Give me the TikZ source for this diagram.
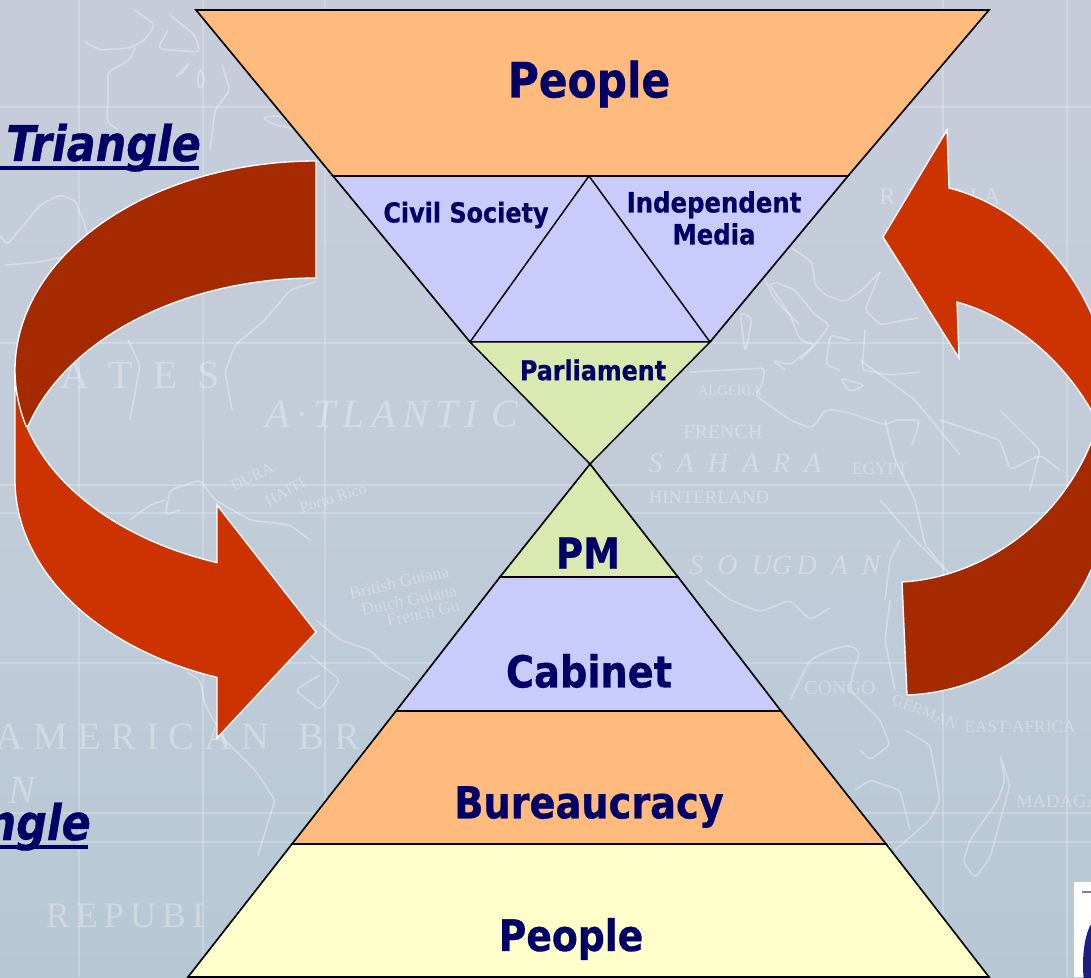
\documentclass[tikz,border=0pt]{standalone}
\usepackage{fontspec}
\setmainfont{DejaVu Sans}
\newfontfamily\labfont[FakeStretch=0.87,BoldFeatures={FakeBold=0.7},BoldItalicFeatures={FakeBold=0.7}]{DejaVu Sans}
\newfontfamily\mapfont{Liberation Serif}
\definecolor{navytxt}{HTML}{000066}
\definecolor{orangebox}{HTML}{FFBB7D}
\definecolor{lilacbox}{HTML}{CACBFD}
\definecolor{greenbox}{HTML}{D9E9B0}
\definecolor{yellowbox}{HTML}{FFFFCC}
\definecolor{arrowdark}{HTML}{A52A00}
\definecolor{arrowlight}{HTML}{CC3300}
\definecolor{bgtop}{HTML}{C7CCDA}
\definecolor{bgmid}{HTML}{C2CCD9}
\definecolor{bgbot}{HTML}{B7C8D5}
\definecolor{logoblue}{HTML}{1F1F7F}
\tikzset{
  band/.style={draw=black,line width=1.25pt,line join=miter},
  bigarrow/.style={draw=white,line width=1.0pt,line join=miter},
  boxlabel/.style={inner sep=0pt,text=navytxt,align=center,font=\labfont\bfseries},
  sidelabel/.style={inner sep=0pt,text=navytxt,font=\labfont\bfseries\itshape},
  gridline/.style={draw=white,opacity=.22,line width=1pt},
  mapline/.style={draw=white,opacity=.33,line width=1.2pt,line join=round,rounded corners=3pt},
  maptext/.style={inner sep=0pt,text=white,text opacity=.3,font=\mapfont},
}
\begin{document}
\begin{tikzpicture}[x=.75pt,y=-.75pt]
\useasboundingbox (0,0) rectangle (1091,977);
\clip (0,0) rectangle (1091,977);
% background
\shade[top color=bgtop,bottom color=bgbot,middle color=bgmid] (0,0) rectangle (1091,977);
% graticule
\foreach \g in {79,203,325,943,1067}{\draw[gridline] (\g,0) -- (\g,977);}
\foreach \g in {107,343,485,513,663,813,842}{\draw[gridline] (0,\g) -- (1091,\g);}
% map outlines
\draw[mapline] (85,42)--(100,50)--(130,48)--(145,40)--(155,25)--(135,10);
\draw[mapline] (170,15)--(195,35)--(200,52)--(170,50)--(158,48)--(168,30);
\draw[mapline] (135,48)--(130,60)--(108,72)--(108,100)--(107,122)--(118,130);
\draw[mapline] (175,78)--(190,62)--(183,72)--cycle;
\draw[mapline] (200,68)--(205,80)--(200,90)--(197,80)--cycle;
\draw[mapline] (222,65)--(230,90)--(215,110)--(210,150);
\draw[mapline] (262,118)--(280,115)--(300,130)--(275,125)--cycle;
\draw[mapline] (0,235)--(7,245)--(40,205)--(60,195)--(75,200)--(85,225)--(92,255);
\draw[mapline] (5,265)--(40,262)--(70,255);
\draw[mapline] (316,282)--(290,290)--(265,320)--(235,345)--(225,372)--(232,410);
\draw[mapline] (128,340)--(140,365)--(130,420);
\draw[mapline] (180,510)--(165,515)--(170,490)--(200,480)--(215,500)--(250,520)--(290,525)--(310,540);
\draw[mapline] (130,520)--(150,505)--(165,500);
\draw[mapline] (316,620)--(340,640)--(370,650)--(385,665)--(410,680);
\draw[mapline] (310,655)--(340,680)--(320,710)--(295,690)--(320,675);
\draw[mapline] (187,672)--(200,680)--(205,705)--(225,740)--(255,770)--(275,800)--(258,855);
\draw[mapline] (690,372)--(765,368)--(762,385)--(755,395)--(790,420)--(810,428)--(815,425)--(825,410)--(835,410)--(850,413)--(885,425)--(895,420)--(920,420)--(912,445);
\draw[mapline] (770,285)--(790,315)--(800,340)--(815,345)--(790,365)--(772,360)--(785,370);
\draw[mapline] (770,285)--(775,282)--(795,290)--(815,315)--(830,325)--(815,345)--(800,360);
\draw[mapline] (750,250)--(775,300)--(800,325);
\draw[mapline] (792,248)--(812,262)--(815,285)--(825,295)--(845,302)--(862,290)--(880,272);
\draw[mapline] (880,272)--(865,310)--(880,325)--(905,320)--(918,318);
\draw[mapline] (865,330)--(862,370)--(890,375)--(920,372);
\draw[mapline] (850,340)--(830,335)--(826,365)--(840,370);
\draw[mapline] (740,312)--(752,318)--(748,340)--(745,352)--cycle;
\draw[mapline] (840,378)--(865,385)--(850,392)--cycle;
\draw[mapline] (885,420)--(895,460)--(915,500)--(925,545)--(955,580);
\draw[mapline] (860,360)--(915,400)--(960,455);
\draw[mapline] (940,420)--(1000,440)--(1010,470)--(1040,455)--(1060,470);
\draw[mapline] (1000,410)--(1040,450)--(1030,490);
\draw[mapline] (880,500)--(915,540)--(945,570);
\draw[mapline] (705,580)--(730,600)--(760,612)--(790,600)--(810,620)--(830,608);
\draw[mapline] (790,700)--(810,660)--(830,650)--(850,645)--(860,652)--(853,672)--(850,690)--(880,720)--(890,745)--(870,760)--(860,750);
\draw[mapline] (885,600)--(890,560)--(900,540);
\draw[mapline] (890,600)--(885,640)--(895,690);
\draw[mapline] (905,730)--(930,745)--(940,800)--(930,820)--(895,850);
\draw[mapline] (855,790)--(870,780)--(900,790)--(910,830);
\draw[mapline] (1000,755)--(1005,780)--(998,800)--(970,840)--(963,862)--(975,878)--(990,858)--(1003,810)--(1010,785)--cycle;
% faint map labels
\node[maptext,font=\mapfont\itshape] (m1) at (392,414) {\fontsize{30}{30}\selectfont A\,·\,T\,L\,A\,N\,T\,I\,\,C};
\node[maptext] (m2) at (735,463) {\fontsize{21}{21}\selectfont\itshape S\ \ A\ \ H\ \ A\ \ R\ \ A};
\node[maptext] (m3) at (709,497) {\fontsize{14}{14}\selectfont HINTERLAND};
\node[maptext] (m4) at (723,432) {\fontsize{15}{15}\selectfont FRENCH};
\node[maptext] (m5) at (730,391) {\fontsize{11}{11}\selectfont ALGERIA};
\node[maptext] (m6) at (880,469) {\fontsize{13}{13}\selectfont EGYPT};
\node[maptext] (m7) at (785,565) {\fontsize{21}{21}\selectfont\itshape S\ \ O\ \ UG\,D\ \ A\ \ N};
\node[maptext] (m8) at (840,688) {\fontsize{15}{15}\selectfont CONGO};
\node[maptext] (m9) at (1020,727) {\fontsize{13}{13}\selectfont EAST AFRICA};
\node[maptext,rotate=-22] (m10) at (925,712) {\fontsize{12}{12}\selectfont GERMAN};
\node[maptext] (m11) at (1058,801) {\fontsize{14}{14}\selectfont MADAGA};
\node[maptext] (m12) at (178,737) {\fontsize{29}{29}\selectfont A\ M\ E\ R\ I\ C\ A\ N\ \ \ B\ R};
\node[maptext,font=\mapfont\itshape] (m13) at (22,790) {\fontsize{30}{30}\selectfont N};
\node[maptext] (m14) at (125,916) {\fontsize{27}{27}\selectfont R\,E\,P\,U\,B\,I};
\node[maptext] (m15) at (140,375) {\fontsize{30}{30}\selectfont A\ \ T\ \ E\ \ S};
\node[maptext,rotate=13] (m16) at (399,582) {\fontsize{13}{13}\selectfont British Guiana};
\node[maptext,rotate=12] (m17) at (409,600) {\fontsize{13}{13}\selectfont Dutch Guiana};
\node[maptext,rotate=12] (m18) at (423,613) {\fontsize{13}{13}\selectfont French Gu};
\node[maptext,rotate=30] (m19) at (285,492) {\fontsize{12}{12}\selectfont HAITI};
\node[maptext,rotate=17] (m22) at (333,498) {\fontsize{12}{12}\selectfont Porto Rico};
\node[maptext,rotate=27] (m20) at (252,477) {\fontsize{12}{12}\selectfont DURA};
\node[maptext] (m21) at (940,197) {\fontsize{18}{18}\selectfont R\ \ U\ S\ S\ I\ A};
% left arrow
\filldraw[bigarrow,fill=arrowlight] (15,370) -- (15,480)
  -- plot[domain=180:109.2,samples=50] ({316+301*cos(\x)},{480+209*sin(\x)})
  -- (217,738) -- (316,632) -- (217,505) -- (217,562)
  -- plot[domain=109.2:180,samples=50] ({316+301*cos(\x)},{370+204*sin(\x)}) -- cycle;
\filldraw[bigarrow,fill=arrowdark]
  plot[domain=270:180,samples=60] ({316+301*cos(\x)},{370+209*sin(\x)})
  -- plot[domain=180:164.5,samples=12] ({316+301*cos(\x)},{370+209*sin(\x)})
  -- plot[domain=197:270,samples=50] ({316+301*cos(\x)},{487+209*sin(\x)}) -- cycle;
% right arrow
\filldraw[bigarrow,fill=arrowlight] (883,237) -- (947,130) -- (949,188)
  .. controls (1015,205) and (1065,255) .. (1091,313) -- (1130,400) -- (1130,480) -- (1091,410)
  .. controls (1065,365) and (1020,320) .. (957,302) -- (959,358) -- cycle;
\filldraw[bigarrow,fill=arrowdark] (902,582)
  .. controls (975,578) and (1055,530) .. (1091,443) -- (1130,443) -- (1130,520) -- (1091,570)
  .. controls (1060,640) and (990,692) .. (907,695) -- cycle;
% hourglass
\filldraw[band,fill=orangebox] (196,10) -- (989,10) -- (848,176) -- (333,176) -- cycle;
\filldraw[band,fill=lilacbox] (333,176) -- (848,176) -- (710,342) -- (470,342) -- cycle;
\draw[band,line width=1.1pt] (470,342) -- (589,176) -- (710,342);
\filldraw[band,line width=1.1pt,fill=greenbox] (470,342) -- (710,342) -- (590,464) -- cycle;
\filldraw[band,fill=greenbox] (590,464) -- (678,577) -- (500,577) -- cycle;
\filldraw[band,fill=lilacbox] (500,577) -- (678,577) -- (781,711) -- (396,711) -- cycle;
\filldraw[band,fill=orangebox] (396,711) -- (781,711) -- (886,844) -- (292,844) -- cycle;
\filldraw[band,fill=yellowbox] (292,844) -- (886,844) -- (989,977) -- (188,977) -- cycle;
% labels
\node[boxlabel] (peopletop) at (589,84) {\fontsize{36.5}{36}\selectfont People};
\node[boxlabel] (civil) at (466,215) {\fontsize{20.6}{21}\selectfont Civil Society};
\node[boxlabel,font=\labfont\bfseries\fontsize{21}{24}\selectfont] (media) at (714,218) {Independent\\Media};
\node[boxlabel] (parl) at (593,370) {\fontsize{20.5}{21}\selectfont Parliament};
\node[boxlabel] (pm) at (588,553) {\fontsize{32}{32}\selectfont PM};
\node[boxlabel] (cabinet) at (589,671) {\fontsize{33}{33}\selectfont Cabinet};
\node[boxlabel] (bureau) at (589,807) {\fontsize{33}{33}\selectfont Bureaucracy};
\node[boxlabel] (peoplebot) at (571,939) {\fontsize{32.5}{32}\selectfont People};
\node[sidelabel,anchor=base west] (tri) at (6,161) {\fontsize{37}{37}\selectfont Triangle};
\fill[navytxt] (0,165.5) rectangle (199,169.5);
\node[sidelabel,anchor=base east] (ngl) at (91,840) {\fontsize{37}{37}\selectfont ngle};
\fill[navytxt] (0,845) rectangle (88,848.5);
% logo corner
\fill[white] (1074,882) rectangle (1091,977);
\fill[logoblue] (1098,965) ellipse (15 and 46);
\draw[gray,line width=.8pt] (1082,892) -- (1091,892);
\end{tikzpicture}
\end{document}
